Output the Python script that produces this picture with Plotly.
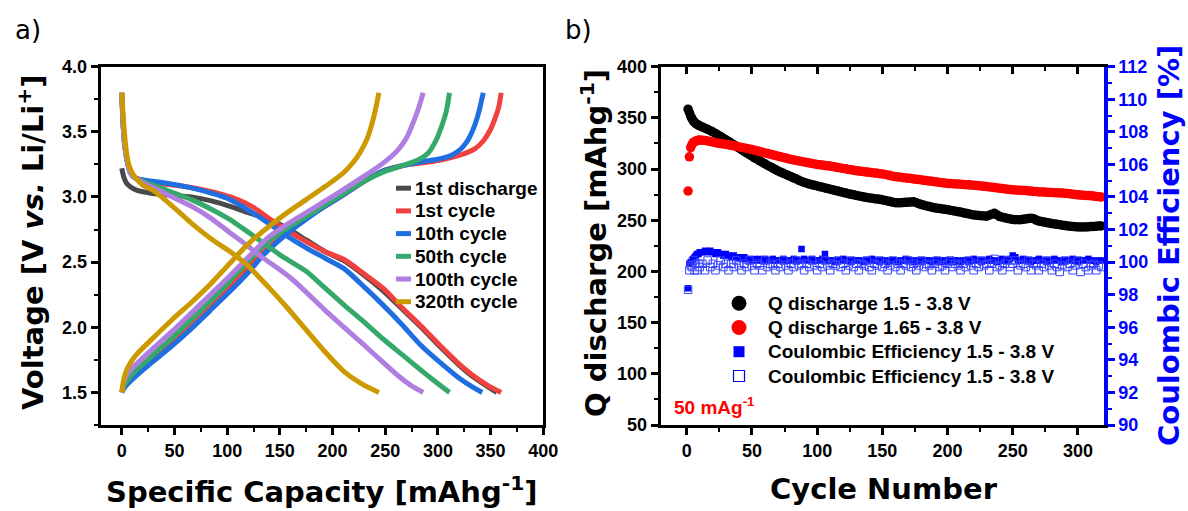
import plotly.graph_objects as go

W, H = 1188, 511

# ---------------- Panel a: voltage profiles ----------------
q_1st_dis = [0, 2, 5, 12, 20, 37, 66, 85, 102, 120, 139, 157, 175, 193, 211, 230, 248, 266, 284, 302, 320, 335, 348, 356]
v_1st_dis = [3.22, 3.15, 3.10, 3.06, 3.04, 3.02, 3.00, 2.97, 2.93, 2.88, 2.83, 2.76, 2.67, 2.58, 2.51, 2.40, 2.28, 2.14, 2.00, 1.85, 1.71, 1.61, 1.54, 1.50]

q_c1_dis = [0, 1, 2.5, 5, 8, 12, 20, 40, 60, 80, 95, 110, 125, 146, 170, 193, 211, 230, 248, 266, 284, 302, 320, 335, 348, 360]
v_c1_dis = [3.80, 3.60, 3.42, 3.28, 3.19, 3.15, 3.13, 3.10, 3.08, 3.05, 3.02, 2.98, 2.92, 2.80, 2.68, 2.58, 2.52, 2.41, 2.30, 2.15, 2.01, 1.86, 1.72, 1.62, 1.55, 1.50]
q_c1_cha = [0, 2, 5, 10, 30, 48, 66, 84, 102, 120, 135, 157, 175, 193, 211, 230, 248, 266, 284, 300, 320, 335, 343, 350, 355, 358, 360]
v_c1_cha = [1.50, 1.54, 1.58, 1.63, 1.77, 1.90, 2.04, 2.18, 2.32, 2.46, 2.58, 2.73, 2.84, 2.93, 3.02, 3.12, 3.20, 3.24, 3.26, 3.28, 3.32, 3.37, 3.43, 3.52, 3.62, 3.70, 3.80]

q_c10_dis = [0, 1, 2.5, 5, 8, 12, 20, 40, 66, 85, 100, 120, 139, 157, 175, 193, 211, 230, 248, 266, 284, 302, 320, 333, 342]
v_c10_dis = [3.80, 3.60, 3.42, 3.28, 3.19, 3.15, 3.13, 3.11, 3.07, 3.03, 2.99, 2.90, 2.80, 2.70, 2.61, 2.53, 2.45, 2.31, 2.17, 2.02, 1.86, 1.73, 1.61, 1.54, 1.50]
q_c10_cha = [0, 2, 5, 10, 30, 48, 66, 84, 102, 120, 135, 157, 175, 193, 211, 230, 248, 266, 284, 300, 313, 322, 328, 333, 337, 340, 343]
v_c10_cha = [1.50, 1.53, 1.56, 1.60, 1.74, 1.86, 1.99, 2.13, 2.27, 2.42, 2.56, 2.72, 2.83, 2.93, 3.02, 3.12, 3.20, 3.24, 3.27, 3.29, 3.32, 3.37, 3.43, 3.51, 3.60, 3.69, 3.80]

q_c50_dis = [0, 1, 2.5, 5, 8, 12, 20, 40, 66, 84, 102, 120, 139, 153, 175, 193, 211, 230, 248, 266, 284, 298, 311]
v_c50_dis = [3.80, 3.60, 3.42, 3.28, 3.19, 3.15, 3.12, 3.06, 2.98, 2.91, 2.83, 2.73, 2.62, 2.54, 2.43, 2.30, 2.17, 2.04, 1.91, 1.79, 1.67, 1.58, 1.50]
q_c50_cha = [0, 2, 5, 10, 30, 48, 66, 84, 102, 126, 139, 157, 175, 193, 211, 230, 248, 266, 280, 291, 298, 303, 308, 311]
v_c50_cha = [1.50, 1.55, 1.59, 1.64, 1.79, 1.92, 2.06, 2.20, 2.35, 2.56, 2.66, 2.76, 2.85, 2.94, 3.03, 3.12, 3.19, 3.24, 3.28, 3.34, 3.43, 3.53, 3.66, 3.80]

q_c100_dis = [0, 1, 2.5, 5, 8, 12, 20, 30, 48, 66, 84, 102, 117, 131, 145, 160, 175, 193, 211, 229, 248, 262, 275, 286]
v_c100_dis = [3.80, 3.60, 3.42, 3.28, 3.19, 3.15, 3.11, 3.07, 3.00, 2.93, 2.84, 2.73, 2.64, 2.55, 2.47, 2.38, 2.27, 2.13, 2.00, 1.87, 1.73, 1.63, 1.55, 1.50]
q_c100_cha = [0, 1, 3, 6, 11.6, 30, 48, 66, 84, 102, 124, 139, 157, 175, 193, 211, 230, 248, 262, 270, 277, 282, 286]
v_c100_cha = [1.50, 1.55, 1.60, 1.65, 1.70, 1.84, 1.97, 2.11, 2.25, 2.39, 2.57, 2.69, 2.79, 2.88, 2.97, 3.06, 3.16, 3.26, 3.36, 3.45, 3.58, 3.69, 3.80]

q_c320_dis = [0, 1.5, 3, 4.5, 7, 11, 20, 30, 48, 66, 88, 103, 120, 139, 157, 175, 193, 211, 229, 244]
v_c320_dis = [3.80, 3.60, 3.45, 3.34, 3.24, 3.17, 3.09, 3.05, 2.93, 2.80, 2.66, 2.58, 2.47, 2.31, 2.15, 1.98, 1.81, 1.66, 1.56, 1.50]
q_c320_cha = [0, 1, 2.5, 5, 10, 15, 30, 48, 66, 84, 99, 120, 139, 157, 175, 193, 211, 220, 226, 233, 238, 241, 244]
v_c320_cha = [1.50, 1.56, 1.62, 1.68, 1.75, 1.80, 1.92, 2.06, 2.19, 2.33, 2.46, 2.64, 2.77, 2.88, 2.98, 3.08, 3.19, 3.27, 3.34, 3.45, 3.58, 3.68, 3.80]

legend_a = ["1st discharge", "1st cycle", "10th cycle", "50th cycle", "100th cycle", "320th cycle"]
colors_a = ["#4a4a4a", "#f0413f", "#1f6fe0", "#35a96a", "#b07ee0", "#cc9900"]

# ---------------- Panel b: cycling ----------------
cycles = list(range(1, 11)) + list(range(12, 319, 2))

q_dis_150 = [
    358.5, 355.2, 351.8, 349.2, 347.1, 345.6, 344.5, 343.6, 342.8, 342.1,
    341.0, 339.9, 338.8, 337.5, 336.2, 334.8, 333.2, 331.7, 330.1, 328.6,
    327.0, 325.4, 323.8, 322.1, 320.6, 318.9, 317.3, 315.7, 314.2, 312.6,
    311.0, 309.6, 308.1, 306.5, 305.1, 303.6, 302.3, 300.9, 299.5, 298.2,
    297.0, 295.9, 294.8, 293.6, 292.6, 291.4, 290.3, 289.0, 287.9, 286.9,
    286.2, 285.4, 284.8, 284.1, 283.5, 282.8, 282.3, 281.6, 281.0, 280.3,
    279.7, 279.0, 278.5, 277.8, 277.2, 276.6, 276.0, 275.3, 274.8, 274.2,
    273.7, 273.2, 272.7, 272.3, 271.8, 271.5, 271.1, 270.7, 270.4, 270.0,
    269.4, 268.9, 268.3, 267.7, 267.2, 267.0, 267.1, 267.3, 267.5, 267.6,
    267.9, 268.0, 267.2, 266.2, 265.3, 264.6, 264.0, 263.4, 262.8, 262.2,
    261.8, 261.4, 261.0, 260.7, 260.3, 259.8, 259.4, 258.9, 258.4, 258.0,
    257.4, 256.8, 256.3, 255.7, 255.2, 254.9, 254.6, 254.4, 254.2, 254.0,
    254.9, 255.9, 256.8, 255.2, 253.6, 253.0, 252.4, 251.8, 251.3, 250.8,
    250.6, 250.5, 250.6, 250.9, 251.3, 251.7, 252.0, 251.5, 250.2, 249.2,
    248.7, 248.2, 247.7, 247.2, 246.8, 246.4, 246.0, 245.6, 245.2, 244.8,
    244.5, 244.2, 243.9, 243.7, 243.5, 243.4, 243.4, 243.5, 243.6, 243.8,
    244.0, 244.2, 244.4, 244.5]

q_dis_165 = [
    278.5, 312.0, 321.0, 324.2, 325.8, 326.8, 327.4, 327.8, 328.1, 328.3,
    328.2, 327.9, 327.5, 327.0, 326.4, 325.8, 325.3, 324.9, 324.5, 324.2,
    323.7, 323.2, 322.7, 322.2, 321.6, 321.1, 320.6, 320.1, 319.6, 319.0,
    318.4, 317.8, 317.1, 316.4, 315.8, 315.2, 314.5, 313.9, 313.2, 312.6,
    312.0, 311.3, 310.7, 310.0, 309.4, 308.9, 308.4, 307.9, 307.4, 307.0,
    306.5, 306.0, 305.5, 305.0, 304.5, 304.2, 303.9, 303.5, 303.2, 302.9,
    302.4, 302.0, 301.5, 301.1, 300.6, 300.2, 299.7, 299.3, 298.8, 298.4,
    298.1, 297.8, 297.4, 297.1, 296.8, 296.5, 296.2, 295.8, 295.5, 295.2,
    294.7, 294.2, 293.7, 293.1, 292.6, 292.3, 292.0, 291.6, 291.3, 291.0,
    290.7, 290.4, 290.0, 289.7, 289.4, 289.0, 288.7, 288.4, 288.0, 287.7,
    287.4, 287.0, 286.7, 286.3, 286.0, 285.8, 285.7, 285.5, 285.4, 285.2,
    285.0, 284.8, 284.6, 284.4, 284.2, 284.0, 283.7, 283.4, 283.2, 282.9,
    282.6, 282.3, 282.0, 281.6, 281.3, 281.0, 280.6, 280.3, 280.0, 279.7,
    279.6, 279.4, 279.3, 279.1, 279.0, 278.7, 278.5, 278.2, 278.0, 277.7,
    277.6, 277.5, 277.3, 277.2, 277.0, 276.9, 276.8, 276.7, 276.6, 276.5,
    276.2, 275.8, 275.5, 275.1, 274.8, 274.6, 274.4, 274.3, 274.1, 273.9,
    273.6, 273.3, 273.0, 272.7]

ce_filled = [
    98.4, 99.9, 100.0, 100.1, 100.2, 100.3, 100.4, 100.5, 100.5, 100.6,
    100.6, 100.7, 100.6, 100.7, 100.6, 100.5, 100.6, 100.5, 100.4, 100.5,
    100.4, 100.3, 100.4, 100.3, 100.3, 100.2, 100.3, 100.2, 100.2, 100.1,
    100.2, 100.1, 100.2, 100.1, 100.2, 100.1, 100.1, 100.2, 100.1, 100.1,
    100.1, 100.2, 100.1, 100.1, 100.1, 100.2, 100.1, 100.1, 100.8, 100.2,
    100.1, 100.1, 100.2, 100.1, 100.1, 100.1, 100.2, 100.5, 100.1, 100.1,
    100.1, 100.0, 100.1, 100.1, 100.2, 100.1, 100.1, 100.0, 100.1, 100.1,
    100.1, 100.1, 100.0, 100.1, 100.1, 100.2, 100.1, 100.1, 100.0, 100.1,
    100.1, 100.0, 100.1, 100.1, 100.1, 100.0, 100.1, 100.1, 100.2, 100.1,
    100.1, 100.0, 100.1, 100.1, 100.0, 100.1, 100.1, 100.1, 100.0, 100.1,
    100.1, 100.0, 100.1, 100.1, 100.0, 100.1, 100.0, 100.1, 100.1, 100.0,
    100.1, 100.1, 100.0, 100.1, 100.2, 100.1, 100.1, 100.0, 100.1, 100.1,
    100.2, 100.1, 100.1, 100.0, 100.1, 100.2, 100.1, 100.1, 100.2, 100.4,
    100.3, 100.1, 100.1, 100.2, 100.1, 100.1, 100.0, 100.1, 100.1, 100.2,
    100.1, 100.1, 100.0, 100.1, 100.1, 100.2, 100.1, 100.1, 100.0, 100.1,
    100.1, 100.1, 100.2, 100.1, 100.0, 100.1, 100.1, 100.1, 100.2, 100.1,
    100.1, 100.0, 100.1, 100.1]

ce_open = [
    98.3, 99.5, 99.8, 99.7, 100.1, 99.5, 99.9, 99.5, 99.9, 99.7,
    99.9, 99.5, 100.1, 99.7, 99.9, 99.5, 99.8, 100.1, 99.7, 99.9,
    99.5, 99.9, 99.7, 100.1, 99.8, 99.5, 99.9, 99.7, 100.1, 99.8,
    99.5, 99.9, 99.8, 99.5, 100.1, 99.7, 99.9, 99.8, 99.5, 99.9,
    99.7, 100.1, 99.8, 99.5, 99.9, 99.7, 100.1, 99.8, 99.9, 99.5,
    99.9, 99.7, 100.1, 99.8, 99.5, 99.9, 99.7, 100.1, 99.8, 99.5,
    99.9, 99.8, 100.1, 99.7, 99.9, 99.5, 99.8, 100.1, 99.7, 99.9,
    99.5, 99.9, 99.8, 100.1, 99.7, 99.5, 99.9, 99.8, 100.1, 99.7,
    99.9, 99.5, 99.8, 100.1, 99.7, 99.9, 99.5, 99.9, 99.8, 100.1,
    99.7, 99.9, 99.5, 99.8, 100.1, 99.7, 99.9, 99.8, 99.5, 99.9,
    100.1, 99.7, 99.8, 99.5, 99.9, 100.1, 99.7, 99.9, 99.8, 99.5,
    99.9, 99.7, 100.1, 99.8, 99.5, 99.9, 99.7, 100.1, 99.8, 99.9,
    99.5, 99.9, 100.2, 99.7, 99.8, 99.5, 99.9, 100.1, 99.7, 99.9,
    100.1, 99.5, 99.8, 99.9, 99.7, 100.1, 99.5, 99.9, 99.8, 99.5,
    99.9, 99.7, 100.1, 99.8, 99.5, 99.9, 99.7, 99.4, 99.8, 100.1,
    99.7, 99.9, 99.5, 99.8, 100.1, 99.4, 99.9, 99.7, 99.5, 99.8,
    99.9, 99.5, 99.8, 99.7]

legend_b = ["Q discharge 1.5 - 3.8 V", "Q discharge 1.65 - 3.8 V",
            "Coulombic Efficiency 1.5 - 3.8 V", "Coulombic Efficiency 1.5 - 3.8 V"]

BLUE = "#0000ff"
TICKFONT = dict(family="Liberation Sans", size=18, color="black", weight="bold")
TITLEFONT = "DejaVu Sans"

fig = go.Figure()

curves = [
    (q_1st_dis, v_1st_dis, None, None),
    (q_c1_dis, v_c1_dis, q_c1_cha, v_c1_cha),
    (q_c10_dis, v_c10_dis, q_c10_cha, v_c10_cha),
    (q_c50_dis, v_c50_dis, q_c50_cha, v_c50_cha),
    (q_c100_dis, v_c100_dis, q_c100_cha, v_c100_cha),
    (q_c320_dis, v_c320_dis, q_c320_cha, v_c320_cha),
]
for (qd, vd, qc, vc), name, col in zip(curves, legend_a, colors_a):
    xs, ys = list(qd), list(vd)
    if qc is not None:
        xs += [None] + list(qc)
        ys += [None] + list(vc)
    fig.add_trace(go.Scatter(x=xs, y=ys, mode="lines", name=name, showlegend=False,
                             line=dict(color=col, width=5, shape="spline", smoothing=0.6),
                             connectgaps=False, xaxis="x", yaxis="y"))

fig.add_trace(go.Scatter(x=cycles, y=q_dis_150, mode="markers", name=legend_b[0], showlegend=False,
                         marker=dict(symbol="circle", size=9.5, color="black", line=dict(width=0)),
                         xaxis="x2", yaxis="y2"))
fig.add_trace(go.Scatter(x=cycles, y=q_dis_165, mode="markers", name=legend_b[1], showlegend=False,
                         marker=dict(symbol="circle", size=9.5, color="#ff0000", line=dict(width=0)),
                         xaxis="x2", yaxis="y2"))
fig.add_trace(go.Scatter(x=cycles, y=ce_filled, mode="markers", name=legend_b[2], showlegend=False,
                         marker=dict(symbol="square", size=6.5, color=BLUE, line=dict(width=0)),
                         xaxis="x3", yaxis="y3"))
fig.add_trace(go.Scatter(x=cycles, y=ce_open, mode="markers", name=legend_b[3], showlegend=False,
                         marker=dict(symbol="square-open", size=7.5, color="#3a46ff", line=dict(width=1)),
                         xaxis="x3", yaxis="y3"))

def px_x(x):
    return x / W

def px_y(y):
    return 1 - y / H

XA = [px_x(100.7), px_x(543.3)]
XB = [px_x(660.7), px_x(1104)]
YD = [px_y(425), px_y(66.7)]

common = dict(showgrid=False, zeroline=False, showline=True, linecolor="black", linewidth=3,
              ticks="outside", ticklen=7, tickwidth=2.5, tickcolor="black", tickfont=TICKFONT,
              automargin=False)

fig.update_layout(
    width=W, height=H, margin=dict(l=0, r=0, t=0, b=0, pad=0, autoexpand=False), autosize=False,
    paper_bgcolor="white", plot_bgcolor="white", showlegend=False,
    xaxis=dict(domain=XA, range=[-20, 400], tick0=0, dtick=50, mirror=True, anchor="y",
               minor=dict(dtick=25, ticks="outside", ticklen=4, tickwidth=2, tickcolor="black"), **common),
    yaxis=dict(domain=YD, range=[1.25, 4.0], tick0=0, dtick=0.5, tickformat=".1f", mirror=True, anchor="x",
               minor=dict(dtick=0.25, ticks="outside", ticklen=4, tickwidth=2, tickcolor="black"), **common),
    xaxis2=dict(domain=XB, range=[-20, 320], tick0=0, dtick=50, anchor="y2",
                minor=dict(dtick=25, ticks="outside", ticklen=4, tickwidth=2, tickcolor="black"), **common),
    yaxis2=dict(domain=YD, range=[50, 400], tick0=0, dtick=50, anchor="x2",
                minor=dict(dtick=25, ticks="outside", ticklen=4, tickwidth=2, tickcolor="black"), **common),
    xaxis3=dict(overlaying="x2", side="top", anchor="y2", range=[-20, 320], tick0=0, dtick=50,
                showgrid=False, zeroline=False, showline=True, linecolor="black", linewidth=3,
                ticks="inside", ticklen=7, tickwidth=2.5, tickcolor="black", showticklabels=False,
                automargin=False,
                minor=dict(dtick=25, ticks="inside", ticklen=4, tickwidth=2, tickcolor="black")),
    yaxis3=dict(overlaying="y2", side="right", anchor="x2", range=[90, 112], tick0=0, dtick=2,
                showgrid=False, zeroline=False, showline=True, linecolor=BLUE, linewidth=3.5,
                ticks="outside", ticklen=7, tickwidth=2.5, tickcolor=BLUE, automargin=False,
                tickfont=dict(family="Liberation Sans", size=18, color=BLUE, weight="bold"),
                minor=dict(dtick=1, ticks="outside", ticklen=4, tickwidth=2, tickcolor=BLUE)),
)

ann = []
# panel labels
ann.append(dict(text="a)", x=px_x(28), y=px_y(30), font=dict(family=TITLEFONT, size=26, color="black")))
ann.append(dict(text="b)", x=px_x(578), y=px_y(30), font=dict(family=TITLEFONT, size=26, color="black")))
# axis titles
ann.append(dict(text="<b>Voltage [V <i>vs.</i> Li/Li<sup>+</sup>]</b>", x=px_x(31), y=px_y(243), textangle=-90,
                font=dict(family=TITLEFONT, size=29, color="black")))
ann.append(dict(text="<b>Specific Capacity [mAhg<sup>-1</sup>]</b>", x=px_x(322), y=px_y(490),
                font=dict(family=TITLEFONT, size=29, color="black")))
ann.append(dict(text="<b>Cycle Number</b>", x=px_x(884), y=px_y(489),
                font=dict(family=TITLEFONT, size=29, color="black")))
ann.append(dict(text="<b>Q discharge [mAhg<sup>-1</sup>]</b>", x=px_x(594), y=px_y(243), textangle=-90,
                font=dict(family=TITLEFONT, size=29, color="black")))
ann.append(dict(text="<b>Coulombic Efficiency [%]</b>", x=px_x(1169), y=px_y(246), textangle=-90,
                font=dict(family=TITLEFONT, size=29, color=BLUE)))
# rate annotation
ann.append(dict(text="<b>50 mAg<sup>-1</sup></b>", x=px_x(672), y=px_y(406), xanchor="left",
                font=dict(family="Liberation Sans", size=19, color="#ff0000")))

# custom legend panel a
shapes = []
leg_a_y = [188.2, 210.9, 233.6, 256.3, 279.0, 301.7]
for name, col, yy in zip(legend_a, colors_a, leg_a_y):
    shapes.append(dict(type="line", xref="paper", yref="paper", x0=px_x(396), x1=px_x(411),
                       y0=px_y(yy), y1=px_y(yy), line=dict(color=col, width=5)))
    ann.append(dict(text="<b>" + name + "</b>", x=px_x(413), y=px_y(yy), xanchor="left",
                    font=dict(family="Liberation Sans", size=19, color="black")))

# custom legend panel b
leg_b_y = [303.3, 327.5, 351.7, 376.0]
cx = 739
r = 7.5
shapes.append(dict(type="circle", xref="paper", yref="paper", x0=px_x(cx - r), x1=px_x(cx + r),
                   y0=px_y(leg_b_y[0] - r), y1=px_y(leg_b_y[0] + r), fillcolor="black", line=dict(width=0)))
shapes.append(dict(type="circle", xref="paper", yref="paper", x0=px_x(cx - r), x1=px_x(cx + r),
                   y0=px_y(leg_b_y[1] - r), y1=px_y(leg_b_y[1] + r), fillcolor="#ff0000", line=dict(width=0)))
s = 5.5
shapes.append(dict(type="rect", xref="paper", yref="paper", x0=px_x(cx - s), x1=px_x(cx + s),
                   y0=px_y(leg_b_y[2] - s), y1=px_y(leg_b_y[2] + s), fillcolor=BLUE, line=dict(width=0)))
shapes.append(dict(type="rect", xref="paper", yref="paper", x0=px_x(cx - s), x1=px_x(cx + s),
                   y0=px_y(leg_b_y[3] - s), y1=px_y(leg_b_y[3] + s), fillcolor="white",
                   line=dict(width=1.2, color=BLUE)))
for name, yy in zip(legend_b, leg_b_y):
    ann.append(dict(text="<b>" + name + "</b>", x=px_x(766), y=px_y(yy), xanchor="left",
                    font=dict(family="Liberation Sans", size=19, color="black")))

for a in ann:
    a.setdefault("xref", "paper")
    a.setdefault("yref", "paper")
    a.setdefault("showarrow", False)
    a.setdefault("xanchor", "center")
    a.setdefault("yanchor", "middle")

fig.update_layout(annotations=ann, shapes=shapes)
fig.write_html("out.html", config={"displayModeBar": False},
               post_script="document.body.style.margin='0px';document.body.style.overflow='hidden';")
